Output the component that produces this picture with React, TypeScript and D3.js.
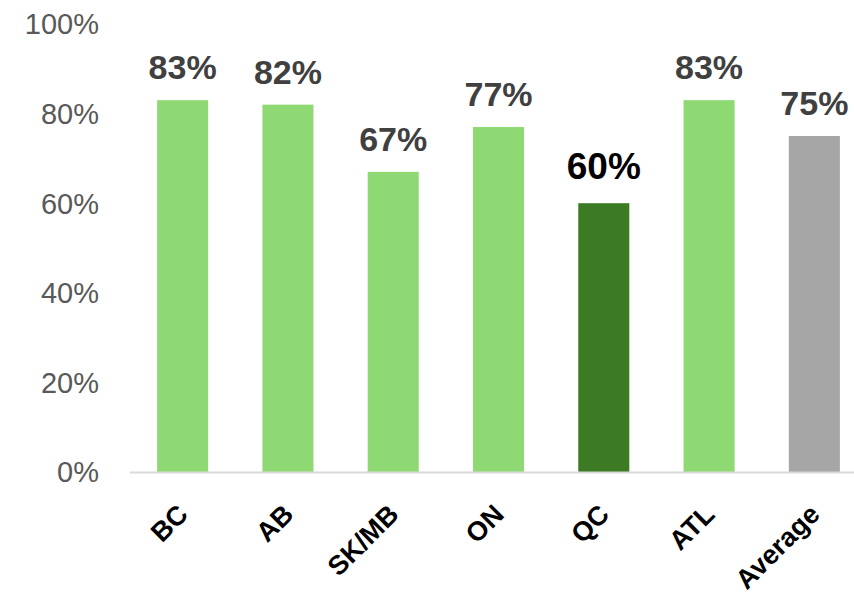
import React from "react";
import * as d3 from "d3";

const categories = ["BC", "AB", "SK/MB", "ON", "QC", "ATL", "Average"];
const values = [83, 82, 67, 77, 60, 83, 75];
const barKinds = ["region", "region", "region", "region", "highlight", "region", "average"];
const yTicks = [0, 20, 40, 60, 80, 100];

const W = 854;
const H = 595;

const colors: Record<string, string> = {
  region: "#8fd974",
  highlight: "#3c7b23",
  average: "#a6a6a6",
};

export default function App() {
  const x = d3.scaleBand<string>().domain(categories).range([130, 867]).paddingInner(0.515).paddingOuter(0.2575);
  const y = d3.scaleLinear().domain([0, 100]).range([472, 24]);
  const font = "'Liberation Sans', Arial, Helvetica, sans-serif";

  return (
    <svg width={W} height={H} style={{ position: "absolute", left: 0, top: 0, background: "#fff" }} fontFamily={font}>
      {yTicks.map((t) => (
        <text key={t} x={99} y={y(t)} dy="0.36em" textAnchor="end" fontSize={29} fill="#595959">
          {t}%
        </text>
      ))}
      {categories.map((c, i) => {
        const kind = barKinds[i];
        const bx = x(c) as number;
        const bw = x.bandwidth();
        const top = y(values[i]);
        const isHi = kind === "highlight";
        return (
          <g key={c}>
            <rect x={bx} y={top} width={bw} height={y(0) - top} fill={colors[kind]} />
            <text
              x={bx + bw / 2}
              y={top - (isHi ? 24 : 21)}
              textAnchor="middle"
              fontSize={isHi ? 37 : 34}
              fontWeight="bold"
              fill={isHi ? "#000000" : "#404040"}
            >
              {values[i]}%
            </text>
            <text
              transform={`translate(${bx + bw / 2 + 7},${516}) rotate(-45)`}
              textAnchor="end"
              fontSize={27}
              fontWeight="bold"
              fill="#000"
            >
              {c}
            </text>
          </g>
        );
      })}
      <line x1={130} x2={W} y1={y(0) + 0.5} y2={y(0) + 0.5} stroke="#d9d9d9" strokeWidth={2} />
    </svg>
  );
}
